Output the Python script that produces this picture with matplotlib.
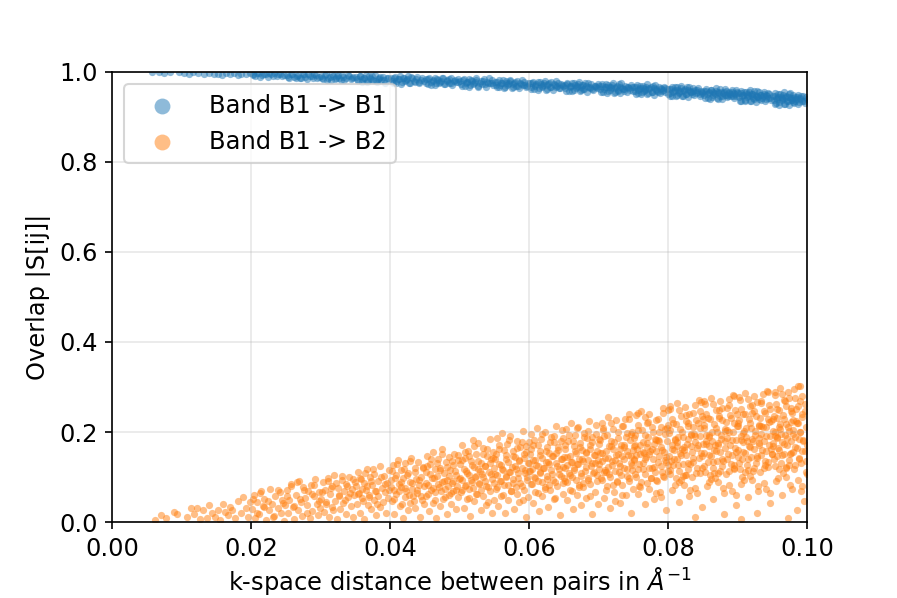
import matplotlib
matplotlib.use('Agg')
import matplotlib.pyplot as plt
import numpy as np

# overlap |S[ij]| vs k-space distance

# Band B1 -> B1 (stays close to 1, drifts down with distance)
b1_x = [
    0.0058, 0.0067, 0.0074, 0.0083, 0.0096,
    0.0104, 0.0111, 0.0117, 0.0124, 0.0132, 0.0139, 0.0147,
    0.0153, 0.0158, 0.0164, 0.0169, 0.0175, 0.0181, 0.0186, 0.0192, 0.0198,
    0.0202, 0.0206, 0.0211, 0.0215, 0.0219, 0.0224, 0.0228, 0.0233, 0.0237, 0.0242, 0.0247,
    0.0251, 0.0255, 0.0259, 0.0262, 0.0266, 0.0270, 0.0274, 0.0278, 0.0282, 0.0285, 0.0289, 0.0293, 0.0297,
    0.0301, 0.0304, 0.0308, 0.0311, 0.0315, 0.0318, 0.0322, 0.0325, 0.0329, 0.0332, 0.0336, 0.0339, 0.0343, 0.0347,
    0.0351, 0.0354, 0.0357, 0.0360, 0.0363, 0.0366, 0.0369, 0.0372, 0.0375, 0.0378, 0.0381, 0.0384, 0.0387, 0.0390, 0.0393, 0.0397,
    0.0401, 0.0404, 0.0407, 0.0409, 0.0412, 0.0415, 0.0418, 0.0421, 0.0424, 0.0426, 0.0429, 0.0432, 0.0435, 0.0438, 0.0441, 0.0444, 0.0448,
    0.0451, 0.0454, 0.0456, 0.0459, 0.0462, 0.0465, 0.0467, 0.0470, 0.0473, 0.0476, 0.0478, 0.0481, 0.0484, 0.0487, 0.0489, 0.0492, 0.0495, 0.0498,
    0.0501, 0.0503, 0.0506, 0.0509, 0.0511, 0.0514, 0.0516, 0.0519, 0.0522, 0.0524, 0.0527, 0.0530, 0.0532, 0.0535, 0.0538, 0.0540, 0.0543, 0.0546, 0.0548,
    0.0551, 0.0553, 0.0556, 0.0558, 0.0561, 0.0563, 0.0566, 0.0568, 0.0571, 0.0573, 0.0576, 0.0578, 0.0581, 0.0583, 0.0586, 0.0588, 0.0591, 0.0593, 0.0596, 0.0598,
    0.0601, 0.0603, 0.0606, 0.0608, 0.0610, 0.0613, 0.0615, 0.0618, 0.0620, 0.0622, 0.0625, 0.0627, 0.0630, 0.0632, 0.0634, 0.0637, 0.0639, 0.0641, 0.0644, 0.0646, 0.0649,
    0.0651, 0.0653, 0.0655, 0.0658, 0.0660, 0.0662, 0.0665, 0.0667, 0.0669, 0.0671, 0.0674, 0.0676, 0.0678, 0.0680, 0.0683, 0.0685, 0.0687, 0.0689, 0.0692, 0.0694, 0.0696, 0.0699,
    0.0701, 0.0703, 0.0705, 0.0707, 0.0710, 0.0712, 0.0714, 0.0716, 0.0718, 0.0720, 0.0723, 0.0725, 0.0727, 0.0729, 0.0731, 0.0733, 0.0736, 0.0738, 0.0740, 0.0742, 0.0744, 0.0746, 0.0749,
    0.0751, 0.0753, 0.0755, 0.0757, 0.0759, 0.0761, 0.0763, 0.0765, 0.0767, 0.0769, 0.0771, 0.0773, 0.0776, 0.0778, 0.0780, 0.0782, 0.0784, 0.0786, 0.0788, 0.0790, 0.0792, 0.0794, 0.0796, 0.0798,
    0.0801, 0.0803, 0.0805, 0.0807, 0.0809, 0.0811, 0.0813, 0.0815, 0.0817, 0.0819, 0.0821, 0.0823, 0.0825, 0.0827, 0.0829, 0.0831, 0.0833, 0.0835, 0.0837, 0.0839, 0.0841, 0.0843, 0.0845, 0.0847, 0.0849,
    0.0851, 0.0853, 0.0855, 0.0856, 0.0858, 0.0860, 0.0862, 0.0864, 0.0866, 0.0868, 0.0870, 0.0872, 0.0874, 0.0875, 0.0877, 0.0879, 0.0881, 0.0883, 0.0885, 0.0887, 0.0889, 0.0891, 0.0893, 0.0895, 0.0897, 0.0899,
    0.0901, 0.0903, 0.0905, 0.0906, 0.0908, 0.0910, 0.0912, 0.0913, 0.0915, 0.0917, 0.0919, 0.0920, 0.0922, 0.0924, 0.0926, 0.0927, 0.0929, 0.0931, 0.0933, 0.0934, 0.0936, 0.0938, 0.0940, 0.0941, 0.0943, 0.0945, 0.0948,
    0.0951, 0.0953, 0.0954, 0.0956, 0.0958, 0.0959, 0.0961, 0.0963, 0.0964, 0.0966, 0.0968, 0.0969, 0.0971, 0.0973, 0.0974, 0.0976, 0.0978, 0.0979, 0.0981, 0.0983, 0.0984, 0.0986, 0.0988, 0.0990, 0.0992, 0.0994, 0.0996, 0.0999,
    # second pass over the band
    0.0203, 0.0209, 0.0213, 0.0221, 0.0226, 0.0231, 0.0239, 0.0245,
    0.0253, 0.0257, 0.0264, 0.0268, 0.0272, 0.0276, 0.0280, 0.0287, 0.0291, 0.0295,
    0.0302, 0.0306, 0.0309, 0.0313, 0.0317, 0.0320, 0.0324, 0.0327, 0.0331, 0.0334, 0.0341, 0.0345,
    0.0352, 0.0356, 0.0359, 0.0362, 0.0365, 0.0368, 0.0371, 0.0374, 0.0379, 0.0383, 0.0386, 0.0391, 0.0395,
    0.0402, 0.0405, 0.0408, 0.0411, 0.0414, 0.0417, 0.0420, 0.0423, 0.0427, 0.0430, 0.0434, 0.0437, 0.0442, 0.0446,
    0.0452, 0.0455, 0.0458, 0.0461, 0.0464, 0.0466, 0.0469, 0.0472, 0.0475, 0.0479, 0.0482, 0.0485, 0.0488, 0.0493, 0.0497,
    0.0502, 0.0505, 0.0507, 0.0510, 0.0513, 0.0515, 0.0518, 0.0521, 0.0523, 0.0526, 0.0529, 0.0533, 0.0536, 0.0539, 0.0542, 0.0547,
    0.0552, 0.0554, 0.0557, 0.0560, 0.0562, 0.0565, 0.0567, 0.0570, 0.0572, 0.0575, 0.0577, 0.0580, 0.0584, 0.0587, 0.0590, 0.0594, 0.0597,
    0.0602, 0.0604, 0.0607, 0.0609, 0.0612, 0.0614, 0.0617, 0.0619, 0.0621, 0.0624, 0.0626, 0.0629, 0.0631, 0.0635, 0.0638, 0.0640, 0.0643, 0.0647,
    0.0652, 0.0654, 0.0657, 0.0659, 0.0661, 0.0664, 0.0666, 0.0668, 0.0670, 0.0673, 0.0675, 0.0677, 0.0679, 0.0682, 0.0684, 0.0688, 0.0691, 0.0695, 0.0698,
    0.0702, 0.0704, 0.0706, 0.0709, 0.0711, 0.0713, 0.0715, 0.0717, 0.0719, 0.0722, 0.0724, 0.0726, 0.0728, 0.0730, 0.0732, 0.0735, 0.0737, 0.0741, 0.0745, 0.0748,
    0.0752, 0.0754, 0.0756, 0.0758, 0.0760, 0.0762, 0.0764, 0.0766, 0.0768, 0.0770, 0.0772, 0.0775, 0.0777, 0.0779, 0.0781, 0.0783, 0.0785, 0.0789, 0.0791, 0.0795, 0.0799,
    0.0802, 0.0804, 0.0806, 0.0808, 0.0810, 0.0812, 0.0814, 0.0816, 0.0818, 0.0820, 0.0822, 0.0824, 0.0826, 0.0828, 0.0830, 0.0832, 0.0834, 0.0836, 0.0840, 0.0842, 0.0846, 0.0848,
    0.0852, 0.0854, 0.0857, 0.0859, 0.0861, 0.0863, 0.0865, 0.0867, 0.0869, 0.0871, 0.0873, 0.0876, 0.0878, 0.0880, 0.0882, 0.0884, 0.0886, 0.0888, 0.0890, 0.0892, 0.0894, 0.0896, 0.0898,
    0.0902, 0.0904, 0.0905, 0.0907, 0.0909, 0.0911, 0.0913, 0.0914, 0.0916, 0.0918, 0.0920, 0.0921, 0.0923, 0.0925, 0.0927, 0.0928, 0.0930, 0.0932, 0.0935, 0.0937, 0.0939, 0.0942, 0.0944, 0.0947,
    0.0952, 0.0953, 0.0955, 0.0957, 0.0958, 0.0960, 0.0962, 0.0963, 0.0965, 0.0967, 0.0968, 0.0970, 0.0972, 0.0974, 0.0975, 0.0977, 0.0979, 0.0980, 0.0982, 0.0985, 0.0987, 0.0989, 0.0991, 0.0995, 0.0998,
]
b1_y = [
    0.999, 1.000, 0.998, 1.000, 0.999,
    0.998, 0.996, 0.999, 0.997, 0.995, 0.998, 0.996,
    0.996, 0.993, 0.998, 0.995, 0.997, 0.992, 0.996, 0.994, 0.998,
    0.995, 0.990, 0.997, 0.992, 0.996, 0.989, 0.994, 0.998, 0.991, 0.995, 0.993,
    0.993, 0.986, 0.995, 0.989, 0.991, 0.985, 0.994, 0.988, 0.996, 0.990, 0.986, 0.993, 0.989,
    0.991, 0.984, 0.994, 0.987, 0.982, 0.990, 0.986, 0.993, 0.981, 0.989, 0.985, 0.992, 0.983, 0.988,
    0.988, 0.979, 0.991, 0.983, 0.986, 0.977, 0.990, 0.984, 0.981, 0.992, 0.978, 0.987, 0.982, 0.989, 0.976, 0.985,
    0.986, 0.975, 0.989, 0.980, 0.984, 0.973, 0.987, 0.979, 0.983, 0.990, 0.976, 0.985, 0.978, 0.988, 0.974, 0.982, 0.980,
    0.983, 0.972, 0.986, 0.977, 0.981, 0.970, 0.984, 0.976, 0.980, 0.987, 0.973, 0.982, 0.975, 0.985, 0.971, 0.979, 0.977, 0.983,
    0.980, 0.968, 0.984, 0.974, 0.978, 0.967, 0.982, 0.973, 0.977, 0.985, 0.969, 0.979, 0.972, 0.983, 0.966, 0.976, 0.974, 0.981, 0.970,
    0.977, 0.965, 0.981, 0.971, 0.975, 0.964, 0.979, 0.970, 0.974, 0.982, 0.966, 0.976, 0.969, 0.980, 0.963, 0.973, 0.971, 0.978, 0.967, 0.975,
    0.974, 0.961, 0.978, 0.968, 0.972, 0.960, 0.977, 0.966, 0.971, 0.980, 0.962, 0.973, 0.965, 0.978, 0.959, 0.970, 0.967, 0.975, 0.963, 0.972, 0.969,
    0.971, 0.958, 0.975, 0.965, 0.969, 0.957, 0.974, 0.963, 0.968, 0.977, 0.959, 0.970, 0.962, 0.975, 0.956, 0.967, 0.964, 0.972, 0.960, 0.969, 0.966, 0.973,
    0.968, 0.954, 0.973, 0.962, 0.966, 0.953, 0.971, 0.960, 0.965, 0.975, 0.955, 0.967, 0.958, 0.972, 0.952, 0.964, 0.961, 0.969, 0.956, 0.966, 0.963, 0.970, 0.957,
    0.965, 0.951, 0.970, 0.959, 0.963, 0.950, 0.968, 0.957, 0.962, 0.972, 0.952, 0.964, 0.955, 0.969, 0.949, 0.961, 0.958, 0.966, 0.953, 0.963, 0.960, 0.967, 0.954, 0.962,
    0.962, 0.946, 0.967, 0.955, 0.959, 0.945, 0.965, 0.953, 0.958, 0.969, 0.947, 0.960, 0.951, 0.966, 0.944, 0.957, 0.954, 0.963, 0.948, 0.959, 0.956, 0.964, 0.950, 0.958, 0.952,
    0.957, 0.941, 0.962, 0.950, 0.954, 0.940, 0.960, 0.948, 0.953, 0.964, 0.942, 0.955, 0.946, 0.961, 0.939, 0.952, 0.949, 0.958, 0.943, 0.954, 0.951, 0.959, 0.945, 0.953, 0.947, 0.956,
    0.952, 0.935, 0.958, 0.945, 0.949, 0.934, 0.956, 0.943, 0.948, 0.960, 0.936, 0.950, 0.941, 0.957, 0.933, 0.947, 0.944, 0.954, 0.937, 0.949, 0.946, 0.955, 0.939, 0.948, 0.942, 0.951, 0.938,
    0.946, 0.929, 0.952, 0.939, 0.943, 0.927, 0.950, 0.937, 0.942, 0.954, 0.929, 0.944, 0.935, 0.951, 0.926, 0.941, 0.938, 0.948, 0.931, 0.943, 0.940, 0.949, 0.933, 0.942, 0.936, 0.945, 0.930, 0.939,
    # second pass over the band
    0.992, 0.997, 0.989, 0.994, 0.998, 0.990, 0.996, 0.991,
    0.989, 0.994, 0.985, 0.992, 0.987, 0.996, 0.984, 0.991, 0.995, 0.986,
    0.986, 0.992, 0.982, 0.989, 0.994, 0.984, 0.990, 0.987, 0.993, 0.982, 0.991, 0.985,
    0.983, 0.990, 0.978, 0.987, 0.992, 0.980, 0.985, 0.991, 0.979, 0.984, 0.988, 0.981, 0.986,
    0.979, 0.987, 0.976, 0.983, 0.990, 0.977, 0.985, 0.981, 0.974, 0.988, 0.980, 0.984, 0.978, 0.986,
    0.976, 0.984, 0.971, 0.980, 0.987, 0.974, 0.982, 0.978, 0.985, 0.972, 0.979, 0.983, 0.975, 0.981, 0.977,
    0.973, 0.981, 0.968, 0.977, 0.984, 0.970, 0.979, 0.975, 0.982, 0.967, 0.976, 0.980, 0.972, 0.978, 0.985, 0.974,
    0.970, 0.978, 0.965, 0.974, 0.981, 0.967, 0.976, 0.972, 0.979, 0.964, 0.973, 0.977, 0.969, 0.975, 0.982, 0.971, 0.968,
    0.967, 0.975, 0.961, 0.971, 0.978, 0.963, 0.973, 0.969, 0.976, 0.960, 0.970, 0.974, 0.965, 0.972, 0.979, 0.968, 0.964, 0.971,
    0.964, 0.972, 0.958, 0.968, 0.975, 0.960, 0.970, 0.966, 0.973, 0.957, 0.967, 0.971, 0.962, 0.969, 0.976, 0.965, 0.961, 0.968, 0.963,
    0.961, 0.969, 0.955, 0.965, 0.972, 0.957, 0.967, 0.963, 0.970, 0.953, 0.964, 0.968, 0.959, 0.966, 0.974, 0.962, 0.958, 0.965, 0.960, 0.967,
    0.958, 0.966, 0.952, 0.962, 0.969, 0.954, 0.964, 0.960, 0.967, 0.950, 0.961, 0.965, 0.956, 0.963, 0.971, 0.959, 0.955, 0.962, 0.957, 0.964, 0.951,
    0.953, 0.962, 0.947, 0.958, 0.965, 0.949, 0.960, 0.955, 0.963, 0.945, 0.957, 0.961, 0.951, 0.959, 0.967, 0.954, 0.950, 0.958, 0.952, 0.960, 0.946, 0.956,
    0.948, 0.957, 0.942, 0.953, 0.960, 0.944, 0.955, 0.950, 0.958, 0.940, 0.952, 0.956, 0.946, 0.954, 0.962, 0.949, 0.945, 0.953, 0.947, 0.955, 0.941, 0.951, 0.959,
    0.943, 0.952, 0.936, 0.948, 0.956, 0.938, 0.950, 0.945, 0.954, 0.934, 0.947, 0.951, 0.940, 0.949, 0.958, 0.944, 0.939, 0.948, 0.942, 0.950, 0.935, 0.946, 0.953, 0.941,
    0.937, 0.946, 0.930, 0.942, 0.950, 0.932, 0.944, 0.939, 0.948, 0.928, 0.941, 0.945, 0.934, 0.943, 0.953, 0.938, 0.933, 0.942, 0.936, 0.944, 0.929, 0.940, 0.947, 0.935, 0.943,
]

# Band B1 -> B2 (small overlap, spreads upward with distance)
b2_x = [
    0.0062, 0.0071, 0.0078, 0.0089, 0.0094,
    0.0108, 0.0113, 0.0118, 0.0122, 0.0127, 0.0131, 0.0136, 0.0139, 0.0144, 0.0148,
    0.0152, 0.0155, 0.0159, 0.0163, 0.0166, 0.0170, 0.0173, 0.0177, 0.0181, 0.0185, 0.0188, 0.0192, 0.0196, 0.0199,
    0.0201, 0.0204, 0.0206, 0.0209, 0.0211, 0.0214, 0.0217, 0.0219, 0.0222, 0.0225,
    0.0227, 0.0230, 0.0233, 0.0235, 0.0238, 0.0241, 0.0243, 0.0245, 0.0247, 0.0249,
    0.0251, 0.0253, 0.0255, 0.0258, 0.0260, 0.0262, 0.0264, 0.0267, 0.0269, 0.0271,
    0.0273, 0.0275, 0.0278, 0.0280, 0.0282, 0.0284, 0.0286, 0.0288, 0.0290, 0.0292,
    0.0294, 0.0296, 0.0298, 0.0299,
    0.0301, 0.0303, 0.0305, 0.0306, 0.0308, 0.0310, 0.0312, 0.0314, 0.0316, 0.0317,
    0.0319, 0.0321, 0.0323, 0.0325, 0.0327, 0.0328, 0.0330, 0.0332, 0.0334, 0.0336,
    0.0337, 0.0339, 0.0341, 0.0343, 0.0345, 0.0346, 0.0348, 0.0349,
    0.0351, 0.0352, 0.0354, 0.0355, 0.0357, 0.0358, 0.0360, 0.0362, 0.0363, 0.0365,
    0.0366, 0.0368, 0.0369, 0.0371, 0.0372, 0.0374, 0.0376, 0.0377, 0.0379, 0.0380,
    0.0382, 0.0383, 0.0385, 0.0386, 0.0388, 0.0390, 0.0391, 0.0393, 0.0394, 0.0396,
    0.0397, 0.0399,
    0.0401, 0.0402, 0.0404, 0.0405, 0.0406, 0.0408, 0.0409, 0.0411, 0.0412, 0.0414,
    0.0415, 0.0416, 0.0418, 0.0419, 0.0421, 0.0422, 0.0423, 0.0425, 0.0426, 0.0428,
    0.0429, 0.0430, 0.0432, 0.0433, 0.0435, 0.0436, 0.0437, 0.0439, 0.0440, 0.0442,
    0.0443, 0.0444, 0.0446, 0.0447, 0.0448, 0.0449,
    0.0451, 0.0452, 0.0453, 0.0455, 0.0456, 0.0457, 0.0458, 0.0460, 0.0461, 0.0462,
    0.0464, 0.0465, 0.0466, 0.0467, 0.0469, 0.0470, 0.0471, 0.0472, 0.0474, 0.0475,
    0.0476, 0.0477, 0.0479, 0.0480, 0.0481, 0.0482, 0.0484, 0.0485, 0.0486, 0.0487,
    0.0489, 0.0490, 0.0491, 0.0492, 0.0494, 0.0495, 0.0496, 0.0497, 0.0498, 0.0499,
    0.0501, 0.0502, 0.0503, 0.0504, 0.0506, 0.0507, 0.0508, 0.0509, 0.0510, 0.0512,
    0.0513, 0.0514, 0.0515, 0.0516, 0.0518, 0.0519, 0.0520, 0.0521, 0.0522, 0.0524,
    0.0525, 0.0526, 0.0527, 0.0528, 0.0530, 0.0531, 0.0532, 0.0533, 0.0534, 0.0536,
    0.0537, 0.0538, 0.0539, 0.0540, 0.0542, 0.0543, 0.0544, 0.0545, 0.0546, 0.0547,
    0.0548, 0.0549, 0.0549, 0.0550,
    0.0551, 0.0552, 0.0553, 0.0554, 0.0555, 0.0557, 0.0558, 0.0559, 0.0560, 0.0561,
    0.0562, 0.0563, 0.0565, 0.0566, 0.0567, 0.0568, 0.0569, 0.0570, 0.0571, 0.0573,
    0.0574, 0.0575, 0.0576, 0.0577, 0.0578, 0.0579, 0.0581, 0.0582, 0.0583, 0.0584,
    0.0585, 0.0586, 0.0587, 0.0589, 0.0590, 0.0591, 0.0592, 0.0593, 0.0594, 0.0595,
    0.0596, 0.0597, 0.0598, 0.0598, 0.0599, 0.0600,
    0.0601, 0.0602, 0.0603, 0.0604, 0.0605, 0.0606, 0.0607, 0.0608, 0.0609, 0.0611,
    0.0612, 0.0613, 0.0614, 0.0615, 0.0616, 0.0617, 0.0618, 0.0619, 0.0620, 0.0622,
    0.0623, 0.0624, 0.0625, 0.0626, 0.0627, 0.0628, 0.0629, 0.0630, 0.0632, 0.0633,
    0.0634, 0.0635, 0.0636, 0.0637, 0.0638, 0.0639, 0.0640, 0.0641, 0.0643, 0.0644,
    0.0645, 0.0646, 0.0647, 0.0648, 0.0649, 0.0649, 0.0650, 0.0650,
    0.0651, 0.0652, 0.0653, 0.0654, 0.0655, 0.0656, 0.0657, 0.0658, 0.0659, 0.0660,
    0.0661, 0.0662, 0.0663, 0.0664, 0.0665, 0.0666, 0.0667, 0.0668, 0.0669, 0.0670,
    0.0671, 0.0672, 0.0673, 0.0674, 0.0675, 0.0676, 0.0677, 0.0678, 0.0679, 0.0680,
    0.0681, 0.0682, 0.0683, 0.0684, 0.0685, 0.0686, 0.0687, 0.0688, 0.0689, 0.0690,
    0.0691, 0.0692, 0.0693, 0.0694, 0.0695, 0.0696, 0.0697, 0.0698, 0.0699, 0.0700,
    0.0701, 0.0703, 0.0704, 0.0705, 0.0707, 0.0708, 0.0709, 0.0710, 0.0712, 0.0713,
    0.0714, 0.0715, 0.0716, 0.0718, 0.0719, 0.0720, 0.0721, 0.0722, 0.0724, 0.0725,
    0.0726, 0.0727, 0.0728, 0.0729, 0.0731, 0.0732, 0.0733, 0.0734, 0.0735, 0.0736,
    0.0737, 0.0739, 0.0740, 0.0741, 0.0742, 0.0743, 0.0744, 0.0745, 0.0746, 0.0747,
    0.0748, 0.0748, 0.0749, 0.0749, 0.0750, 0.0706, 0.0711, 0.0717, 0.0723, 0.0730,
    0.0738, 0.0702,
    0.0751, 0.0752, 0.0754, 0.0754, 0.0756, 0.0757, 0.0758, 0.0760, 0.0761, 0.0761,
    0.0763, 0.0764, 0.0766, 0.0767, 0.0767, 0.0769, 0.0770, 0.0772, 0.0773, 0.0773,
    0.0775, 0.0776, 0.0778, 0.0779, 0.0779, 0.0781, 0.0782, 0.0784, 0.0785, 0.0785,
    0.0787, 0.0788, 0.0790, 0.0791, 0.0791, 0.0793, 0.0794, 0.0796, 0.0797, 0.0797,
    0.0799, 0.0800, 0.0752, 0.0758, 0.0765, 0.0771, 0.0777, 0.0783, 0.0789, 0.0795,
    0.0756, 0.0769, 0.0782, 0.0798,
    0.0801, 0.0802, 0.0803, 0.0805, 0.0806, 0.0807, 0.0808, 0.0810, 0.0811, 0.0812,
    0.0813, 0.0814, 0.0816, 0.0817, 0.0818, 0.0819, 0.0821, 0.0822, 0.0823, 0.0824,
    0.0825, 0.0827, 0.0828, 0.0829, 0.0830, 0.0832, 0.0833, 0.0834, 0.0835, 0.0836,
    0.0838, 0.0839, 0.0840, 0.0841, 0.0843, 0.0844, 0.0845, 0.0846, 0.0847, 0.0849,
    0.0850, 0.0804, 0.0809, 0.0815, 0.0820, 0.0826, 0.0831, 0.0837, 0.0842, 0.0848,
    0.0803, 0.0812, 0.0821, 0.0829, 0.0838, 0.0846,
    0.0851, 0.0852, 0.0853, 0.0854, 0.0856, 0.0857, 0.0858, 0.0859, 0.0860, 0.0862,
    0.0863, 0.0864, 0.0865, 0.0866, 0.0868, 0.0869, 0.0870, 0.0871, 0.0872, 0.0874,
    0.0875, 0.0876, 0.0877, 0.0878, 0.0880, 0.0881, 0.0882, 0.0883, 0.0884, 0.0886,
    0.0887, 0.0888, 0.0889, 0.0890, 0.0892, 0.0893, 0.0894, 0.0895, 0.0896, 0.0898,
    0.0899, 0.0900, 0.0855, 0.0861, 0.0867, 0.0873, 0.0879, 0.0885, 0.0891, 0.0897,
    0.0852, 0.0859, 0.0866, 0.0873, 0.0880, 0.0887, 0.0894, 0.0899,
    0.0901, 0.0902, 0.0903, 0.0904, 0.0905, 0.0907, 0.0908, 0.0909, 0.0910, 0.0911,
    0.0912, 0.0914, 0.0915, 0.0916, 0.0917, 0.0918, 0.0919, 0.0921, 0.0922, 0.0923,
    0.0924, 0.0925, 0.0926, 0.0928, 0.0929, 0.0930, 0.0931, 0.0932, 0.0933, 0.0935,
    0.0936, 0.0937, 0.0938, 0.0939, 0.0940, 0.0942, 0.0943, 0.0944, 0.0945, 0.0946,
    0.0947, 0.0949, 0.0950, 0.0906, 0.0913, 0.0920, 0.0927, 0.0934, 0.0941, 0.0948,
    0.0902, 0.0908, 0.0914, 0.0921, 0.0927, 0.0933, 0.0939, 0.0945, 0.0904, 0.0931,
    0.0951, 0.0952, 0.0953, 0.0954, 0.0955, 0.0956, 0.0958, 0.0959, 0.0960, 0.0961,
    0.0962, 0.0963, 0.0964, 0.0965, 0.0967, 0.0968, 0.0969, 0.0970, 0.0971, 0.0972,
    0.0973, 0.0974, 0.0976, 0.0977, 0.0978, 0.0979, 0.0980, 0.0981, 0.0982, 0.0983,
    0.0985, 0.0986, 0.0987, 0.0988, 0.0989, 0.0990, 0.0991, 0.0992, 0.0994, 0.0995,
    0.0996, 0.0997, 0.0998, 0.0999, 0.0957, 0.0966, 0.0975, 0.0984, 0.0993, 0.0999,
    0.0953, 0.0961, 0.0969, 0.0977, 0.0985, 0.0993, 0.0998, 0.0956, 0.0972, 0.0988,
    # second pass over the cloud
    0.0203, 0.0208, 0.0212, 0.0218, 0.0224, 0.0232, 0.0239, 0.0246,
    0.0252, 0.0257, 0.0261, 0.0266, 0.0270, 0.0276, 0.0281, 0.0287, 0.0291, 0.0297,
    0.0302, 0.0307, 0.0311, 0.0315, 0.0318, 0.0322, 0.0326, 0.0331, 0.0335, 0.0338, 0.0342, 0.0347,
    0.0353, 0.0356, 0.0359, 0.0361, 0.0364, 0.0367, 0.0370, 0.0373, 0.0375, 0.0378, 0.0381, 0.0387, 0.0392, 0.0398,
    0.0401, 0.0403, 0.0406, 0.0407, 0.0410, 0.0413, 0.0415, 0.0417, 0.0420, 0.0422,
    0.0424, 0.0427, 0.0429, 0.0431, 0.0434, 0.0436, 0.0438, 0.0441, 0.0444, 0.0447,
    0.0451, 0.0453, 0.0455, 0.0457, 0.0459, 0.0461, 0.0463, 0.0465, 0.0467, 0.0469,
    0.0471, 0.0473, 0.0475, 0.0477, 0.0479, 0.0481, 0.0483, 0.0485, 0.0487, 0.0489,
    0.0491, 0.0493, 0.0495, 0.0498,
    0.0501, 0.0503, 0.0504, 0.0506, 0.0508, 0.0509, 0.0511, 0.0513, 0.0514, 0.0516,
    0.0518, 0.0519, 0.0521, 0.0523, 0.0524, 0.0526, 0.0528, 0.0529, 0.0531, 0.0533,
    0.0534, 0.0536, 0.0538, 0.0539, 0.0541, 0.0543, 0.0545, 0.0548,
    0.0551, 0.0552, 0.0554, 0.0556, 0.0557, 0.0559, 0.0561, 0.0562, 0.0564, 0.0566,
    0.0567, 0.0569, 0.0571, 0.0572, 0.0574, 0.0576, 0.0577, 0.0579, 0.0581, 0.0582,
    0.0584, 0.0586, 0.0587, 0.0589, 0.0591, 0.0592, 0.0594, 0.0596, 0.0597, 0.0599,
    0.0601, 0.0603, 0.0604, 0.0606, 0.0607, 0.0609, 0.0610, 0.0612, 0.0613, 0.0615,
    0.0616, 0.0618, 0.0619, 0.0621, 0.0622, 0.0624, 0.0625, 0.0627, 0.0628, 0.0630,
    0.0631, 0.0633, 0.0634, 0.0636, 0.0637, 0.0639, 0.0640, 0.0642, 0.0643, 0.0645,
    0.0647, 0.0649,
    0.0651, 0.0652, 0.0654, 0.0655, 0.0657, 0.0658, 0.0660, 0.0661, 0.0663, 0.0664,
    0.0666, 0.0667, 0.0669, 0.0670, 0.0672, 0.0673, 0.0675, 0.0676, 0.0678, 0.0679,
    0.0681, 0.0682, 0.0684, 0.0685, 0.0687, 0.0688, 0.0690, 0.0691, 0.0693, 0.0694,
    0.0696, 0.0697, 0.0699, 0.0700,
    0.0701, 0.0702, 0.0704, 0.0705, 0.0706, 0.0708, 0.0709, 0.0711, 0.0712, 0.0713,
    0.0715, 0.0716, 0.0718, 0.0719, 0.0720, 0.0722, 0.0723, 0.0725, 0.0726, 0.0727,
    0.0729, 0.0730, 0.0732, 0.0733, 0.0734, 0.0736, 0.0737, 0.0739, 0.0740, 0.0741,
    0.0743, 0.0744, 0.0746, 0.0747, 0.0748, 0.0750,
    0.0751, 0.0752, 0.0753, 0.0755, 0.0756, 0.0757, 0.0759, 0.0760, 0.0762, 0.0763,
    0.0764, 0.0766, 0.0767, 0.0768, 0.0770, 0.0771, 0.0772, 0.0774, 0.0775, 0.0777,
    0.0778, 0.0779, 0.0781, 0.0782, 0.0783, 0.0785, 0.0786, 0.0787, 0.0789, 0.0790,
    0.0792, 0.0793, 0.0794, 0.0796, 0.0797, 0.0798, 0.0799, 0.0800,
    0.0801, 0.0802, 0.0803, 0.0805, 0.0806, 0.0807, 0.0808, 0.0810, 0.0811, 0.0812,
    0.0814, 0.0815, 0.0816, 0.0817, 0.0819, 0.0820, 0.0821, 0.0822, 0.0824, 0.0825,
    0.0826, 0.0828, 0.0829, 0.0830, 0.0831, 0.0833, 0.0834, 0.0835, 0.0836, 0.0838,
    0.0839, 0.0840, 0.0842, 0.0843, 0.0844, 0.0845, 0.0847, 0.0848, 0.0849, 0.0850,
    0.0851, 0.0852, 0.0853, 0.0854, 0.0855, 0.0857, 0.0858, 0.0859, 0.0860, 0.0861,
    0.0863, 0.0864, 0.0865, 0.0866, 0.0867, 0.0869, 0.0870, 0.0871, 0.0872, 0.0873,
    0.0875, 0.0876, 0.0877, 0.0878, 0.0879, 0.0881, 0.0882, 0.0883, 0.0884, 0.0885,
    0.0887, 0.0888, 0.0889, 0.0890, 0.0891, 0.0893, 0.0894, 0.0895, 0.0896, 0.0897,
    0.0898, 0.0900,
    0.0901, 0.0902, 0.0903, 0.0904, 0.0905, 0.0906, 0.0908, 0.0909, 0.0910, 0.0911,
    0.0912, 0.0913, 0.0915, 0.0916, 0.0917, 0.0918, 0.0919, 0.0920, 0.0922, 0.0923,
    0.0924, 0.0925, 0.0926, 0.0927, 0.0929, 0.0930, 0.0931, 0.0932, 0.0933, 0.0934,
    0.0936, 0.0937, 0.0938, 0.0939, 0.0940, 0.0941, 0.0943, 0.0944, 0.0945, 0.0946,
    0.0947, 0.0948, 0.0949, 0.0950,
    0.0951, 0.0952, 0.0953, 0.0954, 0.0955, 0.0956, 0.0957, 0.0958, 0.0959, 0.0960,
    0.0961, 0.0962, 0.0963, 0.0964, 0.0965, 0.0966, 0.0967, 0.0968, 0.0969, 0.0970,
    0.0971, 0.0972, 0.0973, 0.0974, 0.0975, 0.0976, 0.0977, 0.0978, 0.0979, 0.0980,
    0.0981, 0.0982, 0.0983, 0.0984, 0.0985, 0.0986, 0.0987, 0.0988, 0.0989, 0.0990,
    0.0991, 0.0992, 0.0993, 0.0994, 0.0996, 0.0998,
]
b2_y = [
    0.004, 0.015, 0.009, 0.022, 0.018,
    0.012, 0.031, 0.017, 0.032, 0.006, 0.026, 0.008, 0.038, 0.021, 0.011,
    0.027, 0.004, 0.041, 0.022, 0.015, 0.033, 0.026, 0.009, 0.047, 0.019, 0.056, 0.031, 0.012, 0.044,
    0.028, 0.061, 0.008, 0.045, 0.017, 0.069, 0.036, 0.052, 0.004, 0.026,
    0.074, 0.041, 0.013, 0.058, 0.031, 0.066, 0.021, 0.049, 0.002, 0.037,
    0.072, 0.019, 0.048, 0.085, 0.033, 0.006, 0.061, 0.027, 0.091, 0.044,
    0.014, 0.078, 0.053, 0.037, 0.068, 0.009, 0.082, 0.024, 0.057, 0.095,
    0.041, 0.016, 0.066, 0.031,
    0.052, 0.088, 0.023, 0.071, 0.039, 0.097, 0.012, 0.063, 0.081, 0.034,
    0.105, 0.047, 0.006, 0.076, 0.058, 0.029, 0.093, 0.042, 0.068, 0.017,
    0.084, 0.055, 0.101, 0.036, 0.073, 0.011, 0.061, 0.089,
    0.079, 0.041, 0.112, 0.064, 0.021, 0.095, 0.053, 0.086, 0.007, 0.072,
    0.118, 0.037, 0.061, 0.099, 0.028, 0.083, 0.049, 0.107, 0.069, 0.015,
    0.091, 0.058, 0.124, 0.033, 0.076, 0.045, 0.103, 0.066, 0.019, 0.087,
    0.054, 0.115,
    0.093, 0.047, 0.126, 0.071, 0.018, 0.104, 0.062, 0.138, 0.084, 0.036,
    0.115, 0.077, 0.009, 0.097, 0.055, 0.131, 0.068, 0.026, 0.109, 0.088,
    0.043, 0.142, 0.074, 0.058, 0.119, 0.031, 0.096, 0.065, 0.134, 0.082,
    0.012, 0.101, 0.049, 0.123, 0.079, 0.039,
    0.112, 0.058, 0.147, 0.083, 0.024, 0.129, 0.071, 0.098, 0.043, 0.156,
    0.117, 0.066, 0.009, 0.102, 0.139, 0.077, 0.035, 0.121, 0.089, 0.162,
    0.052, 0.108, 0.073, 0.133, 0.018, 0.094, 0.145, 0.061, 0.115, 0.039,
    0.086, 0.126, 0.068, 0.152, 0.029, 0.104, 0.081, 0.137, 0.055, 0.096,
    0.128, 0.067, 0.171, 0.094, 0.032, 0.143, 0.081, 0.113, 0.051, 0.158,
    0.105, 0.074, 0.014, 0.136, 0.089, 0.182, 0.122, 0.046, 0.099, 0.151,
    0.063, 0.117, 0.176, 0.084, 0.027, 0.132, 0.107, 0.058, 0.164, 0.091,
    0.125, 0.038, 0.146, 0.078, 0.111, 0.185, 0.069, 0.139, 0.096, 0.021,
    0.155, 0.086, 0.119, 0.048,
    0.141, 0.073, 0.186, 0.104, 0.036, 0.162, 0.092, 0.127, 0.058, 0.197,
    0.115, 0.082, 0.019, 0.149, 0.101, 0.173, 0.134, 0.049, 0.111, 0.191,
    0.068, 0.123, 0.157, 0.087, 0.029, 0.145, 0.118, 0.062, 0.181, 0.097,
    0.138, 0.044, 0.166, 0.079, 0.121, 0.203, 0.071, 0.152, 0.108, 0.011,
    0.169, 0.094, 0.131, 0.055, 0.114, 0.177,
    0.152, 0.084, 0.196, 0.117, 0.043, 0.171, 0.101, 0.138, 0.066, 0.208,
    0.125, 0.091, 0.024, 0.158, 0.112, 0.184, 0.143, 0.057, 0.121, 0.201,
    0.077, 0.133, 0.166, 0.096, 0.034, 0.154, 0.128, 0.071, 0.189, 0.106,
    0.147, 0.051, 0.177, 0.088, 0.131, 0.213, 0.079, 0.161, 0.118, 0.015,
    0.179, 0.103, 0.139, 0.062, 0.122, 0.186, 0.098, 0.145,
    0.163, 0.092, 0.207, 0.126, 0.048, 0.181, 0.109, 0.147, 0.072, 0.219,
    0.134, 0.099, 0.028, 0.169, 0.119, 0.194, 0.153, 0.061, 0.129, 0.211,
    0.083, 0.141, 0.176, 0.103, 0.038, 0.161, 0.136, 0.077, 0.198, 0.113,
    0.156, 0.054, 0.186, 0.094, 0.138, 0.224, 0.085, 0.171, 0.124, 0.018,
    0.188, 0.108, 0.149, 0.067, 0.131, 0.196, 0.104, 0.158, 0.041, 0.117,
    0.174, 0.098, 0.221, 0.135, 0.053, 0.192, 0.116, 0.158, 0.079, 0.234,
    0.143, 0.107, 0.031, 0.181, 0.127, 0.207, 0.163, 0.066, 0.138, 0.226,
    0.089, 0.151, 0.187, 0.111, 0.042, 0.172, 0.146, 0.083, 0.213, 0.121,
    0.167, 0.059, 0.198, 0.102, 0.149, 0.239, 0.092, 0.183, 0.132, 0.021,
    0.201, 0.115, 0.159, 0.073, 0.141, 0.209, 0.112, 0.169, 0.046, 0.125,
    0.229, 0.154,
    0.186, 0.107, 0.238, 0.149, 0.062, 0.205, 0.128, 0.171, 0.088, 0.247,
    0.156, 0.117, 0.039, 0.194, 0.139, 0.221, 0.176, 0.074, 0.151, 0.241,
    0.097, 0.163, 0.201, 0.122, 0.051, 0.184, 0.158, 0.091, 0.228, 0.133,
    0.179, 0.067, 0.212, 0.112, 0.161, 0.254, 0.101, 0.196, 0.144, 0.026,
    0.215, 0.126, 0.172, 0.081, 0.153, 0.223, 0.119, 0.182, 0.056, 0.137,
    0.243, 0.166, 0.094, 0.208,
    0.198, 0.116, 0.252, 0.162, 0.071, 0.219, 0.139, 0.183, 0.097, 0.264,
    0.168, 0.126, 0.045, 0.207, 0.149, 0.236, 0.188, 0.082, 0.161, 0.256,
    0.105, 0.174, 0.214, 0.131, 0.058, 0.196, 0.169, 0.099, 0.243, 0.142,
    0.191, 0.075, 0.226, 0.121, 0.172, 0.271, 0.109, 0.209, 0.154, 0.033,
    0.229, 0.135, 0.184, 0.089, 0.163, 0.238, 0.128, 0.195, 0.064, 0.146,
    0.258, 0.178, 0.102, 0.221, 0.012, 0.247,
    0.209, 0.124, 0.263, 0.173, 0.079, 0.231, 0.148, 0.194, 0.105, 0.276,
    0.179, 0.134, 0.051, 0.218, 0.158, 0.248, 0.199, 0.089, 0.171, 0.268,
    0.113, 0.185, 0.226, 0.139, 0.064, 0.207, 0.179, 0.106, 0.254, 0.151,
    0.201, 0.082, 0.237, 0.129, 0.182, 0.283, 0.117, 0.219, 0.164, 0.038,
    0.241, 0.144, 0.193, 0.096, 0.172, 0.249, 0.136, 0.205, 0.069, 0.155,
    0.269, 0.188, 0.109, 0.232, 0.017, 0.259, 0.121, 0.213,
    0.219, 0.131, 0.272, 0.182, 0.084, 0.241, 0.156, 0.203, 0.112, 0.287,
    0.188, 0.141, 0.055, 0.228, 0.166, 0.258, 0.208, 0.094, 0.179, 0.279,
    0.119, 0.194, 0.236, 0.146, 0.068, 0.216, 0.187, 0.111, 0.264, 0.159,
    0.211, 0.087, 0.246, 0.136, 0.191, 0.292, 0.123, 0.229, 0.172, 0.042,
    0.251, 0.151, 0.202, 0.101, 0.181, 0.259, 0.143, 0.214, 0.073, 0.162,
    0.278, 0.197, 0.115, 0.242, 0.021, 0.268, 0.127, 0.222, 0.006, 0.176,
    0.229, 0.139, 0.283, 0.191, 0.091, 0.252, 0.164, 0.212, 0.118, 0.298,
    0.196, 0.148, 0.061, 0.238, 0.174, 0.268, 0.217, 0.101, 0.187, 0.289,
    0.126, 0.202, 0.246, 0.153, 0.074, 0.226, 0.195, 0.117, 0.275, 0.167,
    0.221, 0.093, 0.257, 0.143, 0.199, 0.303, 0.131, 0.239, 0.181, 0.046,
    0.262, 0.158, 0.211, 0.107, 0.189, 0.271, 0.151, 0.224, 0.079, 0.171,
    0.288, 0.206, 0.122, 0.253, 0.026, 0.279, 0.135, 0.232, 0.009, 0.184,
    # second pass over the cloud
    0.052, 0.019, 0.064, 0.033, 0.047, 0.011, 0.071, 0.043,
    0.058, 0.079, 0.036, 0.088, 0.051, 0.072, 0.021, 0.063, 0.083, 0.046,
    0.067, 0.044, 0.091, 0.075, 0.026, 0.086, 0.059, 0.102, 0.049, 0.079, 0.064, 0.096,
    0.062, 0.098, 0.074, 0.047, 0.109, 0.081, 0.056, 0.092, 0.117, 0.068, 0.039, 0.101, 0.084, 0.071,
    0.078, 0.113, 0.052, 0.097, 0.129, 0.068, 0.089, 0.041, 0.118, 0.076,
    0.104, 0.061, 0.135, 0.087, 0.046, 0.111, 0.072, 0.094, 0.057, 0.121,
    0.087, 0.124, 0.063, 0.106, 0.141, 0.075, 0.097, 0.049, 0.131, 0.084,
    0.115, 0.069, 0.152, 0.092, 0.056, 0.122, 0.079, 0.103, 0.064, 0.136,
    0.091, 0.113, 0.072, 0.148,
    0.097, 0.138, 0.071, 0.117, 0.156, 0.083, 0.108, 0.054, 0.146, 0.093,
    0.127, 0.076, 0.168, 0.102, 0.062, 0.135, 0.087, 0.114, 0.071, 0.151,
    0.099, 0.124, 0.079, 0.163, 0.044, 0.131, 0.106, 0.143,
    0.106, 0.151, 0.078, 0.128, 0.171, 0.091, 0.118, 0.059, 0.159, 0.102,
    0.139, 0.083, 0.183, 0.112, 0.068, 0.147, 0.095, 0.124, 0.077, 0.165,
    0.108, 0.136, 0.086, 0.178, 0.048, 0.143, 0.116, 0.156, 0.099, 0.131,
    0.114, 0.162, 0.084, 0.137, 0.183, 0.098, 0.127, 0.064, 0.171, 0.109,
    0.149, 0.089, 0.196, 0.121, 0.073, 0.158, 0.102, 0.133, 0.082, 0.177,
    0.116, 0.146, 0.093, 0.191, 0.053, 0.154, 0.124, 0.167, 0.106, 0.141,
    0.204, 0.087,
    0.121, 0.172, 0.089, 0.145, 0.193, 0.104, 0.134, 0.068, 0.181, 0.116,
    0.158, 0.094, 0.208, 0.128, 0.077, 0.167, 0.108, 0.141, 0.087, 0.188,
    0.123, 0.154, 0.098, 0.202, 0.057, 0.162, 0.131, 0.177, 0.112, 0.149,
    0.216, 0.092, 0.138, 0.184,
    0.129, 0.183, 0.094, 0.154, 0.204, 0.111, 0.142, 0.072, 0.193, 0.123,
    0.168, 0.099, 0.221, 0.136, 0.082, 0.177, 0.114, 0.149, 0.092, 0.199,
    0.131, 0.163, 0.104, 0.214, 0.061, 0.172, 0.139, 0.188, 0.118, 0.158,
    0.229, 0.097, 0.146, 0.195, 0.126, 0.169,
    0.137, 0.194, 0.099, 0.163, 0.216, 0.118, 0.151, 0.077, 0.205, 0.131,
    0.178, 0.106, 0.234, 0.144, 0.087, 0.188, 0.121, 0.158, 0.097, 0.211,
    0.139, 0.173, 0.111, 0.227, 0.065, 0.182, 0.147, 0.199, 0.125, 0.167,
    0.243, 0.103, 0.155, 0.207, 0.134, 0.179, 0.249, 0.114,
    0.146, 0.205, 0.106, 0.172, 0.229, 0.126, 0.161, 0.083, 0.218, 0.139,
    0.189, 0.113, 0.248, 0.153, 0.093, 0.199, 0.129, 0.167, 0.104, 0.224,
    0.148, 0.184, 0.118, 0.241, 0.071, 0.193, 0.156, 0.211, 0.133, 0.177,
    0.259, 0.109, 0.164, 0.219, 0.142, 0.191, 0.266, 0.121, 0.236, 0.174,
    0.154, 0.216, 0.112, 0.181, 0.241, 0.133, 0.169, 0.088, 0.229, 0.146,
    0.199, 0.119, 0.262, 0.161, 0.098, 0.209, 0.136, 0.176, 0.109, 0.236,
    0.156, 0.193, 0.124, 0.254, 0.075, 0.203, 0.164, 0.222, 0.141, 0.186,
    0.273, 0.114, 0.172, 0.231, 0.149, 0.201, 0.281, 0.127, 0.248, 0.183,
    0.059, 0.213,
    0.161, 0.226, 0.118, 0.191, 0.252, 0.139, 0.178, 0.093, 0.239, 0.154,
    0.208, 0.126, 0.273, 0.169, 0.103, 0.219, 0.144, 0.185, 0.114, 0.247,
    0.163, 0.202, 0.131, 0.266, 0.079, 0.213, 0.172, 0.232, 0.148, 0.196,
    0.284, 0.121, 0.181, 0.242, 0.157, 0.211, 0.289, 0.134, 0.259, 0.192,
    0.064, 0.224, 0.151, 0.176,
    0.168, 0.236, 0.124, 0.199, 0.263, 0.146, 0.186, 0.098, 0.249, 0.161,
    0.217, 0.132, 0.284, 0.177, 0.108, 0.228, 0.151, 0.193, 0.119, 0.257,
    0.171, 0.211, 0.137, 0.276, 0.083, 0.222, 0.179, 0.242, 0.155, 0.205,
    0.296, 0.127, 0.189, 0.252, 0.164, 0.219, 0.301, 0.141, 0.269, 0.201,
    0.068, 0.233, 0.158, 0.183, 0.246, 0.112,
]

labels = ['Band B1 -> B1', 'Band B1 -> B2']

plt.rcParams['font.size'] = 11.6

fig = plt.figure(figsize=(5.98, 3.987), dpi=150)
ax = fig.add_subplot(1, 1, 1)
fig.subplots_adjust(left=0.125, right=0.9, top=0.88, bottom=0.127)

ax.scatter(b1_x, b1_y, s=12, alpha=0.5, linewidths=0, color='C0', label=labels[0])
ax.scatter(b2_x, b2_y, s=12, alpha=0.5, linewidths=0, color='C1', label=labels[1])

ax.set_xlim(0, 0.1)
ax.set_ylim(0, 1)
ax.grid(alpha=0.3)
ax.set_xlabel(r'k-space distance between pairs in $Å^{-1}$', labelpad=2)
ax.set_ylabel('Overlap |S[ij]|')
ax.legend(loc='upper left', markerscale=2.2, handlelength=2.3)

fig.savefig('out.png', dpi=150)
